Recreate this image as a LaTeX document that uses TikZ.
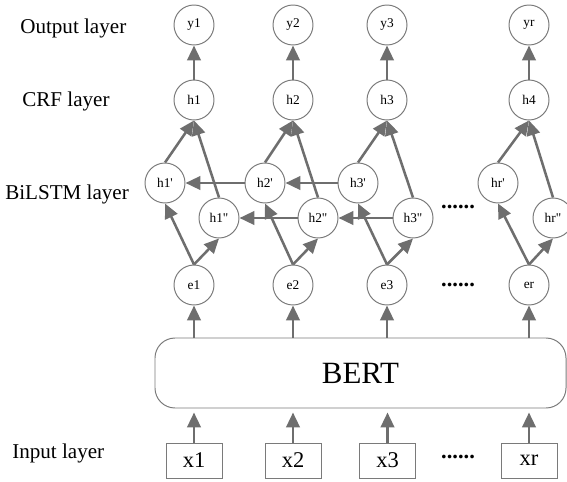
\documentclass[tikz,border=0pt]{standalone}
\usepackage{fontspec}
\setmainfont{Liberation Serif}
\newfontfamily\unitfont{Liberation Serif}[Ligatures=TeXOff]
\usetikzlibrary{arrows.meta}
\definecolor{arrowgray}{HTML}{6E6E6E}
\definecolor{rimgray}{HTML}{7A7A7A}

\begin{document}
\begin{tikzpicture}[
        unit/.style={circle,draw=rimgray,line width=0.7pt,minimum size=1.0cm,inner sep=0pt,font=\unitfont\fontsize{9.5}{11}\selectfont},
        inbox/.style={rectangle,draw=rimgray,line width=0.7pt,minimum width=1.4cm,minimum height=0.875cm,inner sep=0pt,font=\fontsize{16}{19}\selectfont},
        layername/.style={anchor=base west,inner sep=0pt,font=\fontsize{15}{18}\selectfont},
        gap/.style={anchor=base,inner sep=0pt,font=\fontsize{16}{19}\selectfont\bfseries},
        flow/.style={draw=arrowgray,line width=1.8pt,-{Triangle[length=10.5pt,width=9.5pt]}}
    ]
                    \useasboundingbox (0,0) rectangle (14.175,12.025);%

                    % Layer names on the left
                    \node [layername] (lout) at (0.500000,11.200000) {Output layer};%
                    \node [layername] (lcrf) at (0.550000,9.375000) {CRF layer};%
                    \node [layername] (llstm) at (0.125000,7.050000) {BiLSTM layer};%
                    \node [layername] (lin) at (0.300000,0.575000) {Input layer};%

                    % Input tokens
                    \node [inbox] (x1) at (4.850000,0.512500) {x1};%
                    \node [inbox] (x2) at (7.325000,0.512500) {x2};%
                    \node [inbox] (x3) at (9.687500,0.512500) {x3};%
                    \node [inbox] (xr) at (13.225000,0.512500) {xr};%
                    \node [gap] (xdots) at (11.450000,0.562500) {......};%

                    % BERT block
                    \node [draw=rimgray,line width=0.7pt,rounded corners=0.5cm,minimum width=10.275cm,minimum height=1.75cm,font=\fontsize{22}{26}\selectfont] (bert) at (9.012500,2.700000) {BERT};%

                    % Embeddings
                    \node [unit] (e1) at (4.850000,4.900000) {e1};%
                    \node [unit] (e2) at (7.325000,4.900000) {e2};%
                    \node [unit] (e3) at (9.675000,4.900000) {e3};%
                    \node [unit] (er) at (13.225000,4.900000) {er};%
                    \node [gap] (edots) at (11.450000,4.862500) {......};%

                    % Forward LSTM states
                    \node [unit] (h1a) at (4.125000,7.450000) {h1'};%
                    \node [unit] (h2a) at (6.625000,7.450000) {h2'};%
                    \node [unit] (h3a) at (8.950000,7.450000) {h3'};%
                    \node [unit] (hra) at (12.450000,7.450000) {hr'};%

                    % Backward LSTM states
                    \node [unit] (h1b) at (5.475000,6.575000) {h1"};%
                    \node [unit] (h2b) at (7.950000,6.575000) {h2"};%
                    \node [unit] (h3b) at (10.325000,6.575000) {h3"};%
                    \node [unit] (hrb) at (13.825000,6.575000) {hr"};%
                    \node [gap] (hdots) at (11.450000,6.812500) {......};%

                    % CRF states
                    \node [unit] (h1) at (4.850000,9.525000) {h1};%
                    \node [unit] (h2) at (7.325000,9.525000) {h2};%
                    \node [unit] (h3) at (9.675000,9.525000) {h3};%
                    \node [unit] (h4) at (13.225000,9.525000) {h4};%

                    % Outputs
                    \node [unit] (y1) at (4.850000,11.400000) {y1};%
                    \node [unit] (y2) at (7.325000,11.400000) {y2};%
                    \node [unit] (y3) at (9.675000,11.400000) {y3};%
                    \node [unit] (yr) at (13.225000,11.400000) {yr};%

                    % Inputs into BERT, BERT into embeddings
                    \foreach \k in {1,2,3,r} {%
                        \draw [flow,shorten >=0.1cm] (x\k) -- (x\k |- bert.south);%
                        \draw [flow] (bert.north -| e\k) -- (e\k);%
                    }

                    % Embeddings into both LSTM directions
                    \foreach \k in {1,2,3,r} {%
                        \draw [flow] (e\k.north) -- (h\k a.south);%
                        \draw [flow] (e\k.north) -- (h\k b.south);%
                    }

                    % LSTM states into CRF, CRF into outputs
                    \foreach \k/\c/\o in {1/h1/y1,2/h2/y2,3/h3/y3,r/h4/yr} {%
                        \draw [flow] (h\k a.north) -- (\c.south);%
                        \draw [flow] (h\k b.north) -- (\c.south);%
                        \draw [flow] (\c) -- (\o);%
                    }

                    % Recurrent links
                    \draw [flow] (h2a) -- (h1a);%
                    \draw [flow] (h3a) -- (h2a);%
                    \draw [flow] (h2b) -- (h1b);%
                    \draw [flow] (h3b) -- (h2b);%
\end{tikzpicture}
\end{document}
